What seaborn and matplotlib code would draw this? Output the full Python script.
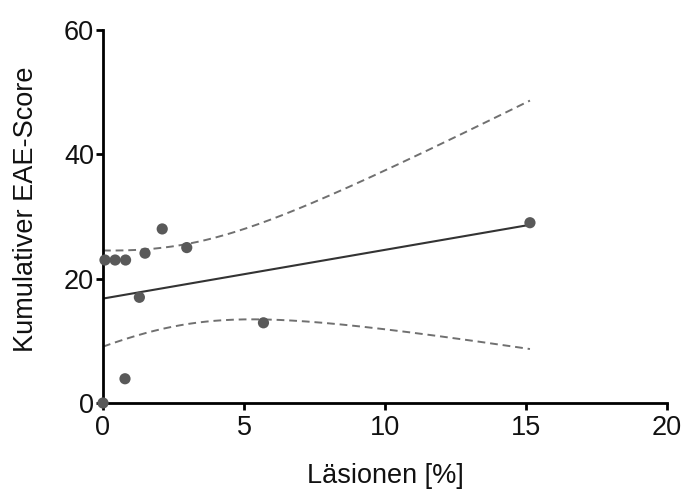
import numpy as np
import pandas as pd
import matplotlib
matplotlib.use("Agg")
import matplotlib.pyplot as plt
import seaborn as sns

lesion = [0.0, 0.07, 0.43, 0.8, 0.78, 1.29, 1.49, 2.1, 2.97, 5.69, 15.14]
score = [0.0, 23.0, 23.0, 23.0, 3.9, 17.0, 24.1, 28.0, 25.0, 12.9, 29.0]
x_ticks = [0, 5, 10, 15, 20]
y_ticks = [0, 20, 40, 60]

df = pd.DataFrame({"x": lesion, "y": score})

sns.set_theme(style="white")
plt.rcParams["font.family"] = ["Liberation Sans", "DejaVu Sans"]

fig = plt.figure(figsize=(6.86, 4.93), dpi=100)
ax = fig.add_axes([103/686, 1 - 403/493, (667-103)/686, (403-30)/493])

# analytic 95% confidence band of the linear fit
xa = np.array(lesion); ya = np.array(score)
n = len(xa)
b1, b0 = np.polyfit(xa, ya, 1)
xs = np.linspace(xa.min(), xa.max(), 200)
yhat = b0 + b1 * xs
resid = ya - (b0 + b1 * xa)
s = np.sqrt(np.sum(resid**2) / (n - 2))
sxx = np.sum((xa - xa.mean())**2)
tval = 2.262  # t(0.975, df=9)
se = s * np.sqrt(1/n + (xs - xa.mean())**2 / sxx)
band = pd.DataFrame({"x": xs, "lo": yhat - tval*se, "hi": yhat + tval*se})

sns.lineplot(data=band, x="x", y="lo", ax=ax, color="#707070", lw=1.4, linestyle=(0, (4, 2.5)))
sns.lineplot(data=band, x="x", y="hi", ax=ax, color="#707070", lw=1.4, linestyle=(0, (4, 2.5)))
sns.regplot(data=df, x="x", y="y", ax=ax, ci=None, truncate=True,
            scatter_kws=dict(s=65, color="#595959", alpha=1, clip_on=False, zorder=5, edgecolor="none"),
            line_kws=dict(color="#333333", lw=1.5))

ax.set_xlim(0, 20)
ax.set_ylim(0, 60)
ax.set_xticks(x_ticks)
ax.set_yticks(y_ticks)
sns.despine(ax=ax)
for sp in ["left", "bottom"]:
    ax.spines[sp].set_linewidth(2)
    ax.spines[sp].set_color("black")
ax.tick_params(axis="both", direction="out", length=5, width=2, color="black",
               labelsize=19.5, labelcolor="#111111", left=True, bottom=True)
ax.tick_params(axis="x", pad=3.5)
ax.tick_params(axis="y", pad=1.5)
ax.set_xlabel("Läsionen [%]", fontsize=19.5, labelpad=16, color="#111111")
ax.set_ylabel("Kumulativer EAE-Score", fontsize=19.5, labelpad=18, color="#111111")
ax.yaxis.label.set_y(0.5 + 7/373)

fig.savefig("out.png", dpi=100)
